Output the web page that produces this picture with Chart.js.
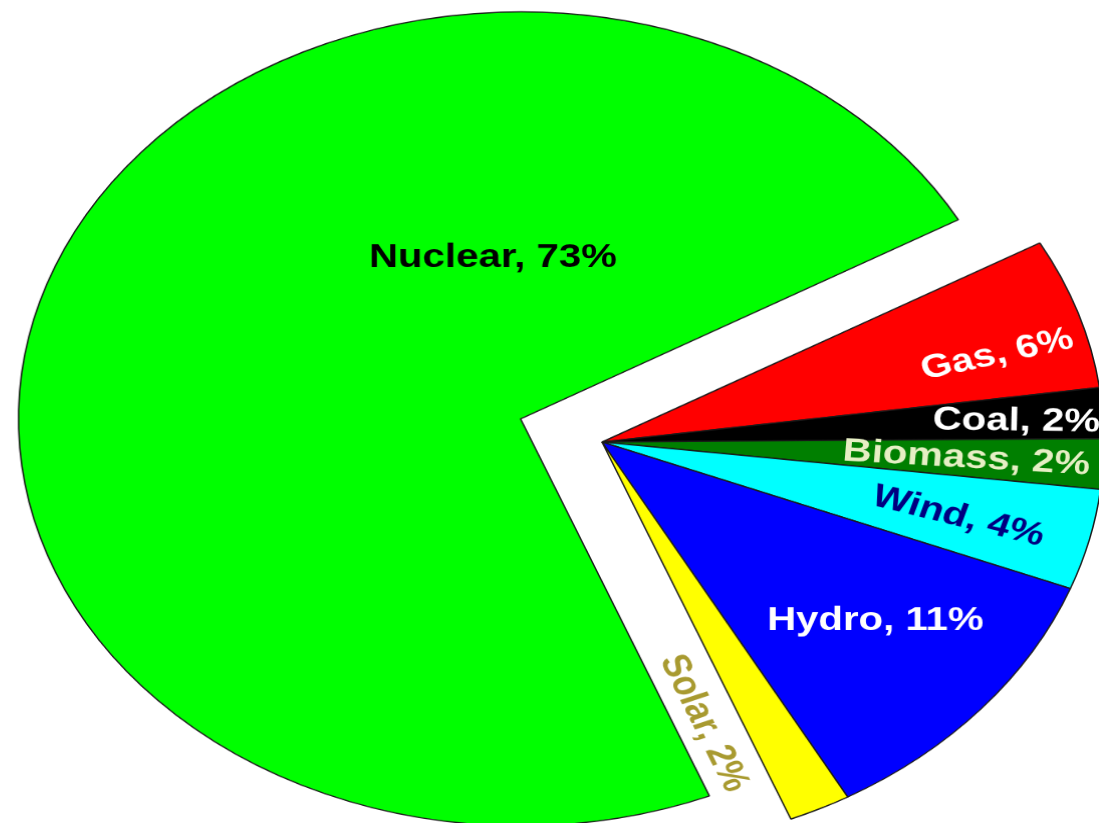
<!DOCTYPE html>
<html>
<head>
<meta charset="utf-8">
<script src="https://cdn.jsdelivr.net/npm/chart.js@4.4.1/dist/chart.umd.min.js"></script>
<style>
  html, body { margin: 0; padding: 0; background: #fff; overflow: hidden; width: 1099px; height: 823px; }
  #wrap {
    position: absolute;
    left: 2px;
    top: -158px;
    width: 1200px;
    height: 1200px;
    transform-origin: 600px 600px;
    transform: scale(1.004, 0.814);
  }
</style>
</head>
<body>
<div id="wrap"><canvas id="pieChart" width="1200" height="1200"></canvas></div>
<script>
const categories = ['Gas', 'Coal', 'Biomass', 'Wind', 'Hydro', 'Solar', 'Nuclear'];
const shares = [6, 2, 2, 4, 11, 2, 73];
const sliceColors = ['#ff0000', '#000000', '#007f00', '#00ffff', '#0000ff', '#ffff00', '#00ff00'];
const exploded = [0, 0, 0, 0, 0, 0, 86];

// where each label sits: fraction along slice angle, fraction of radius, text angle (deg), colour
const labelStyle = [
  { along: 0.65, dist: 0.816, rot: -14.7, color: '#ffffff' },
  { along: 0.58, dist: 0.827, rot: 1, color: '#ffffff' },
  { along: 0.51, dist: 0.727, rot: 4, color: '#e6efc4' },
  { along: 0.54, dist: 0.733, rot: 16.7, color: '#000080' },
  { along: 0.45, dist: 0.70, rot: 0, color: '#ffffff' },
  { along: 1.8, dist: 0.72, rot: 67.9, color: '#a89a30' },
  { along: 0.739, dist: 0.40, rot: 0, color: '#000000' }
];

function shift(arc, i) {
  const d = exploded[i] || 0;
  const mid = (arc.startAngle + arc.endAngle) / 2;
  return { dx: Math.cos(mid) * d, dy: Math.sin(mid) * d };
}

// draw the arcs ourselves so the exploded slice keeps its radius
const explodePlugin = {
  id: 'explode',
  beforeDatasetDraw(chart, args) {
    const ctx = chart.ctx;
    args.meta.data.forEach((arc, i) => {
      const { dx, dy } = shift(arc, i);
      ctx.save();
      ctx.translate(dx, dy);
      arc.draw(ctx);
      ctx.restore();
    });
    return false;
  }
};

const labelPlugin = {
  id: 'sliceLabels',
  afterDatasetsDraw(chart) {
    const ctx = chart.ctx;
    const meta = chart.getDatasetMeta(0);
    meta.data.forEach((arc, i) => {
      const s = labelStyle[i];
      const { dx, dy } = shift(arc, i);
      const a = arc.startAngle + s.along * (arc.endAngle - arc.startAngle);
      const r = s.dist * arc.outerRadius;
      ctx.save();
      ctx.translate(arc.x + dx + Math.cos(a) * r, arc.y + dy + Math.sin(a) * r);
      ctx.rotate(s.rot * Math.PI / 180);
      ctx.font = 'bold 40px "Liberation Sans", Arial, sans-serif';
      ctx.fillStyle = s.color;
      ctx.textAlign = 'center';
      ctx.textBaseline = 'middle';
      ctx.fillText(`${categories[i]}, ${shares[i]}%`, 0, 0);
      ctx.restore();
    });
  }
};

new Chart(document.getElementById('pieChart').getContext('2d'), {
  type: 'pie',
  data: {
    labels: categories,
    datasets: [{
      data: shares,
      backgroundColor: sliceColors,
      borderColor: '#1a1a1a',
      borderWidth: 1.5
    }]
  },
  options: {
    responsive: false,
    animation: false,
    rotation: 60.7,
    radius: 500,
    layout: { padding: 0 },
    events: [],
    plugins: {
      legend: { display: false },
      tooltip: { enabled: false },
      title: { display: false }
    }
  },
  plugins: [explodePlugin, labelPlugin]
});
</script>
</body>
</html>
